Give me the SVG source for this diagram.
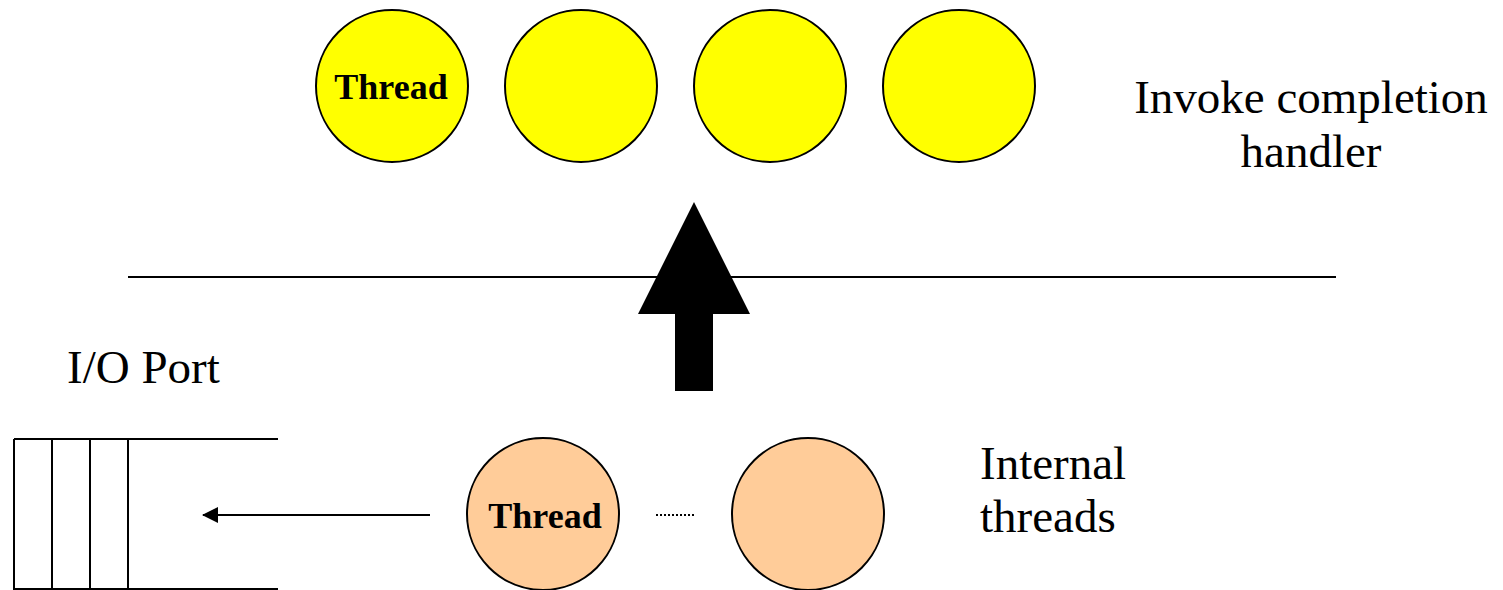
<svg xmlns="http://www.w3.org/2000/svg" width="1503" height="590" viewBox="0 0 1503 590">
<style>
.y{fill:#FFFF00;stroke:#000;stroke-width:2}
.o{fill:#FFCC99;stroke:#000;stroke-width:2}
.ln{stroke:#000;stroke-width:2;fill:none}
.lbl{font-family:"Liberation Serif","Times New Roman",serif;font-size:47px;fill:#000}
.th{font-family:"Liberation Serif","Times New Roman",serif;font-size:36px;font-weight:bold;fill:#000;text-anchor:middle}
</style>
<defs>
<marker id="ah" markerWidth="16" markerHeight="16" refX="15" refY="8" orient="auto" markerUnits="userSpaceOnUse">
<path d="M0,0 L16,8 L0,16 Z" fill="#000"/>
</marker>
</defs>
<rect width="1503" height="590" fill="#fff"/>
<g id="pool-thread-1"><circle class="y" cx="392" cy="86" r="76"/><text class="th" x="391" y="99">Thread</text></g>
<g id="pool-thread-2"><circle class="y" cx="581" cy="86" r="76"/></g>
<g id="pool-thread-3"><circle class="y" cx="770" cy="86" r="76"/></g>
<g id="pool-thread-4"><circle class="y" cx="959" cy="86" r="76"/></g>
<g id="label-invoke"><text class="lbl" x="1311" y="113" text-anchor="middle">Invoke completion</text><text class="lbl" x="1311" y="167" text-anchor="middle">handler</text></g>
<g id="divider"><line class="ln" x1="128" y1="277" x2="1336" y2="277"/></g>
<g id="big-arrow"><polygon points="694,202 750,314 713,314 713,391 675,391 675,314 638,314" fill="#000"/></g>
<g id="label-ioport"><text class="lbl" x="67" y="383">I/O Port</text></g>
<g id="io-port">
<line class="ln" x1="14" y1="439" x2="278" y2="439"/>
<line class="ln" x1="14" y1="589" x2="278" y2="589"/>
<line class="ln" x1="14" y1="439" x2="14" y2="590"/>
<line class="ln" x1="52" y1="439" x2="52" y2="590"/>
<line class="ln" x1="90" y1="439" x2="90" y2="590"/>
<line class="ln" x1="128" y1="439" x2="128" y2="590"/>
</g>
<g id="internal-thread-1"><circle class="o" cx="543" cy="514" r="76"/><text class="th" x="545" y="528">Thread</text></g>
<g id="internal-thread-2"><circle class="o" cx="808" cy="514" r="76"/></g>
<g id="label-internal"><text class="lbl" x="980" y="479">Internal</text><text class="lbl" x="980" y="532">threads</text></g>
<g id="connectors">
<line class="ln" x1="430" y1="515" x2="203" y2="515" marker-end="url(#ah)"/>
<line x1="656" y1="515" x2="695" y2="515" stroke="#000" stroke-width="2" stroke-dasharray="2,2"/>
</g>
</svg>
